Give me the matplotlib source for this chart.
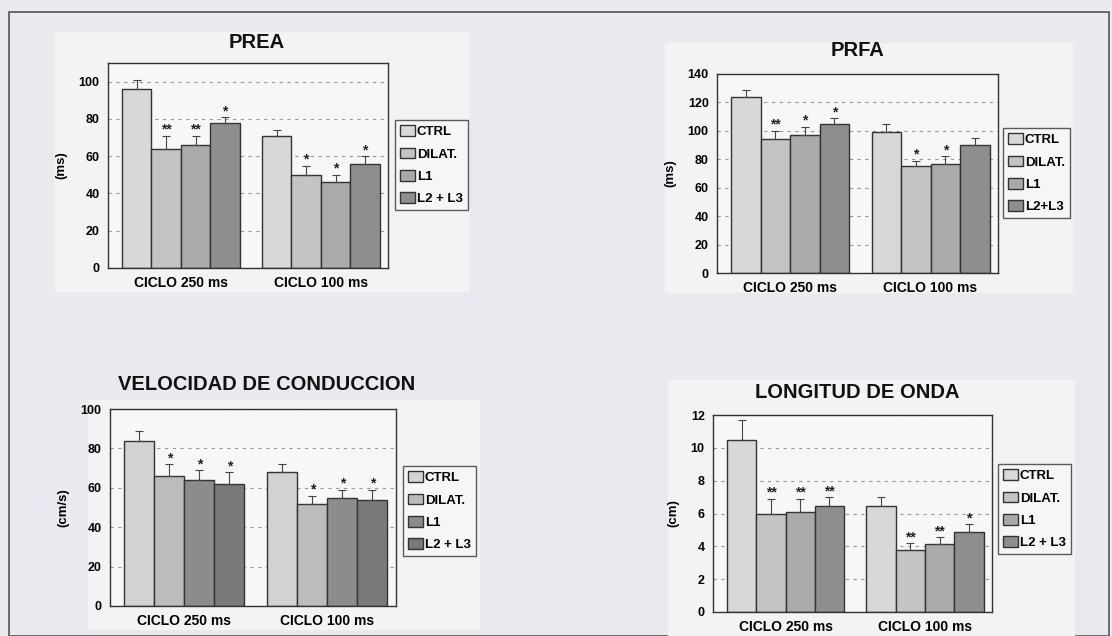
import numpy as np
import matplotlib.pyplot as plt
from matplotlib.patches import Rectangle, Patch

plt.rcParams['font.family'] = ['Liberation Sans', 'DejaVu Sans']
plt.rcParams['font.weight'] = 'bold'

# datos
grupos = ['CICLO 250 ms', 'CICLO 100 ms']
series = ['CTRL', 'DILAT.', 'L1', 'L2 + L3']
series_prfa = ['CTRL', 'DILAT.', 'L1', 'L2+L3']

prea_val = [[96, 71], [64, 50], [66, 46], [78, 56]]
prea_err = [[5, 3], [7, 5], [5, 4], [3, 4]]
prea_sig = [['', ''], ['**', '*'], ['**', '*'], ['*', '*']]

prfa_val = [[124, 99], [94, 75], [97, 77], [105, 90]]
prfa_err = [[5, 6], [6, 4], [6, 5], [4, 5]]
prfa_sig = [['', ''], ['**', '*'], ['*', '*'], ['*', '']]

vel_val = [[84, 68], [66, 52], [64, 55], [62, 54]]
vel_err = [[5, 4], [6, 4], [5, 4], [6, 5]]
vel_sig = [['', ''], ['*', '*'], ['*', '*'], ['*', '*']]

long_val = [[10.5, 6.45], [6.0, 3.75], [6.1, 4.15], [6.45, 4.85]]
long_err = [[1.2, 0.55], [0.9, 0.45], [0.8, 0.4], [0.55, 0.5]]
long_sig = [['', ''], ['**', '**'], ['**', '**'], ['**', '*']]

W, H = 1112, 636
fig = plt.figure(figsize=(W / 100, H / 100), dpi=100)
fig.patch.set_facecolor('#eae9f0')


def px(x0, y0, x1, y1):
    return [x0 / W, 1 - y1 / H, (x1 - x0) / W, (y1 - y0) / H]


# marco exterior y fondos de cada panel
fig.patches.append(Rectangle((9 / W, 0), 1100 / W, 1 - 12 / H, transform=fig.transFigure,
                             fill=False, ec='#555555', lw=1.2, zorder=-2))
for x0, y0, x1, y1 in [(55, 32, 470, 292), (665, 43, 1073, 293),
                       (88, 400, 480, 630), (668, 380, 1075, 636)]:
    fig.patches.append(Rectangle((x0 / W, 1 - y1 / H), (x1 - x0) / W, (y1 - y0) / H,
                                 transform=fig.transFigure, fc='#f3f3f3', ec='none', zorder=-2))


def panel(box, leg_box, title, title_xy, vals, errs, sigs, ymax, ystep, ylabel, colors,
          labels=series):
    ax = fig.add_axes(px(*box))
    ax.set_facecolor('#f7f7f7')
    x = np.arange(len(grupos))
    w = 0.21
    for i in range(len(labels)):
        xs = x + (i - 1.5) * w
        ax.bar(xs, vals[i], w, color=colors[i], edgecolor='#333333', lw=1.0, zorder=2,
               label=labels[i])
        ax.errorbar(xs, vals[i], yerr=[[0, 0], errs[i]], fmt='none', ecolor='#444444',
                    elinewidth=0.8, capsize=3, capthick=0.8, zorder=3)
        for j in range(len(grupos)):
            if sigs[i][j]:
                ax.text(xs[j], vals[i][j] + errs[i][j] - ymax * 0.005, sigs[i][j],
                        ha='center', va='bottom', fontsize=10, color='#222222')
    ax.set_xlim(-0.52, 1.48)
    ax.set_ylim(0, ymax)
    ax.set_yticks(np.arange(0, ymax + 0.01, ystep))
    ax.yaxis.grid(True, ls=(0, (3, 4)), color='#999999', lw=0.8, zorder=1)
    ax.set_xticks(x)
    ax.set_xticklabels(grupos, fontsize=10, fontweight='bold')
    ax.tick_params(axis='x', length=0, pad=6)
    ax.tick_params(axis='y', labelsize=9, length=0, pad=6)
    ax.set_ylabel(ylabel, fontsize=9.5, fontweight='bold', labelpad=8)
    for s in ax.spines.values():
        s.set_color('#333333')
        s.set_linewidth(1.0)
    fig.text(title_xy[0] / W, 1 - title_xy[1] / H, title, ha='center', va='center',
             fontsize=14.5, fontweight='bold', color='#111111')
    handles = [Patch(fc=colors[i], ec='#333333', lw=1.0) for i in range(len(labels))]
    lx0, ly0, lx1, ly1 = leg_box
    leg = fig.legend(handles, labels, loc='upper left',
                     bbox_to_anchor=(lx0 / W, 1 - ly0 / H), fontsize=9.5,
                     frameon=True, fancybox=False, handlelength=1.1, handleheight=0.9,
                     handletextpad=0.15, labelspacing=0.7, borderpad=0.4,
                     borderaxespad=0)
    leg.get_frame().set_edgecolor('#333333')
    leg.get_frame().set_facecolor('#f7f7f7')
    leg.get_frame().set_linewidth(1.0)
    return ax


gris = ['#d8d8d8', '#c4c4c4', '#aaaaaa', '#8e8e8e']
gris_vel = ['#d2d2d2', '#bcbcbc', '#8c8c8c', '#7a7a7a']

panel((108, 63, 388, 268), (395, 120, 465, 213), 'PREA', (257, 42),
      prea_val, prea_err, prea_sig, 110, 20, '(ms)', gris)
panel((717, 74, 998, 273), (1003, 128, 1072, 216), 'PRFA', (858, 51),
      prfa_val, prfa_err, prfa_sig, 140, 20, '(ms)', gris, series_prfa)
panel((110, 409, 396, 606), (403, 466, 473, 552), 'VELOCIDAD DE CONDUCCION', (267, 385),
      vel_val, vel_err, vel_sig, 100, 20, '(cm/s)', gris_vel)
panel((713, 415, 992, 612), (998, 464, 1073, 558), 'LONGITUD DE ONDA', (857, 392),
      long_val, long_err, long_sig, 12, 2, '(cm)', gris)

fig.savefig('out.png', dpi=100, facecolor=fig.get_facecolor())
